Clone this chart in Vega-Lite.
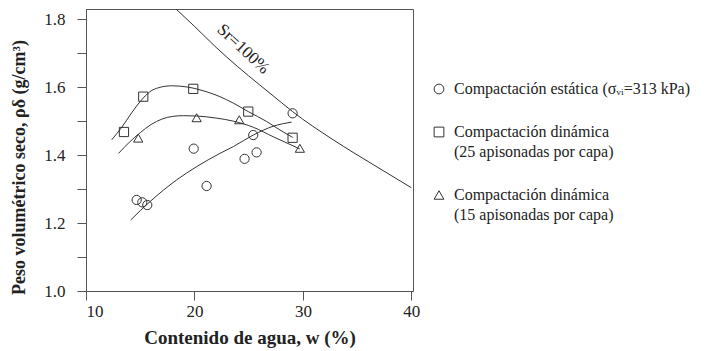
{
  "$schema": "https://vega.github.io/schema/vega-lite/v6.json",
  "width": 327,
  "height": 282,
  "autosize": "none",
  "padding": {"left": 86, "top": 9, "right": 291, "bottom": 60},
  "background": "white",
  "datasets": {
    "pts": [
      {"serie": "A", "w": 14.67, "rho": 1.268},
      {"serie": "A", "w": 15.19, "rho": 1.261},
      {"serie": "A", "w": 15.65, "rho": 1.253},
      {"serie": "A", "w": 19.93, "rho": 1.419},
      {"serie": "A", "w": 21.12, "rho": 1.309},
      {"serie": "A", "w": 24.62, "rho": 1.389},
      {"serie": "A", "w": 25.73, "rho": 1.408},
      {"serie": "A", "w": 25.42, "rho": 1.459},
      {"serie": "A", "w": 29.05, "rho": 1.523},
      {"serie": "B", "w": 13.5, "rho": 1.468},
      {"serie": "B", "w": 15.28, "rho": 1.572},
      {"serie": "B", "w": 19.89, "rho": 1.595},
      {"serie": "B", "w": 24.96, "rho": 1.528},
      {"serie": "B", "w": 29.05, "rho": 1.451},
      {"serie": "C", "w": 14.82, "rho": 1.45},
      {"serie": "C", "w": 20.2, "rho": 1.51},
      {"serie": "C", "w": 24.13, "rho": 1.504},
      {"serie": "C", "w": 29.72, "rho": 1.42}
    ],
    "fits": [
      {"serie": "A", "w": 14.12, "rho": 1.209},
      {"serie": "A", "w": 15.9, "rho": 1.263},
      {"serie": "A", "w": 18.36, "rho": 1.327},
      {"serie": "A", "w": 20.2, "rho": 1.366},
      {"serie": "A", "w": 22.35, "rho": 1.405},
      {"serie": "A", "w": 23.58, "rho": 1.425},
      {"serie": "A", "w": 25.42, "rho": 1.459},
      {"serie": "A", "w": 27.26, "rho": 1.485},
      {"serie": "A", "w": 28.96, "rho": 1.497},
      {"serie": "B", "w": 12.37, "rho": 1.445},
      {"serie": "B", "w": 13.3, "rho": 1.482},
      {"serie": "B", "w": 14.2, "rho": 1.524},
      {"serie": "B", "w": 15.28, "rho": 1.568},
      {"serie": "B", "w": 16.0, "rho": 1.589},
      {"serie": "B", "w": 16.66, "rho": 1.598},
      {"serie": "B", "w": 17.9, "rho": 1.604},
      {"serie": "B", "w": 19.43, "rho": 1.6},
      {"serie": "B", "w": 20.51, "rho": 1.592},
      {"serie": "B", "w": 22.35, "rho": 1.572},
      {"serie": "B", "w": 23.58, "rho": 1.553},
      {"serie": "B", "w": 24.96, "rho": 1.528},
      {"serie": "B", "w": 26.65, "rho": 1.499},
      {"serie": "B", "w": 27.88, "rho": 1.474},
      {"serie": "B", "w": 29.05, "rho": 1.452},
      {"serie": "C", "w": 13.0, "rho": 1.405},
      {"serie": "C", "w": 14.0, "rho": 1.438},
      {"serie": "C", "w": 15.0, "rho": 1.466},
      {"serie": "C", "w": 16.0, "rho": 1.49},
      {"serie": "C", "w": 17.0, "rho": 1.506},
      {"serie": "C", "w": 18.0, "rho": 1.514},
      {"serie": "C", "w": 19.0, "rho": 1.516},
      {"serie": "C", "w": 20.2, "rho": 1.515},
      {"serie": "C", "w": 22.0, "rho": 1.509},
      {"serie": "C", "w": 23.58, "rho": 1.5},
      {"serie": "C", "w": 25.42, "rho": 1.482},
      {"serie": "C", "w": 27.26, "rho": 1.454},
      {"serie": "C", "w": 29.72, "rho": 1.418}
    ],
    "sat": [
      {"w": 18.3, "rho": 1.83},
      {"w": 20.0, "rho": 1.779},
      {"w": 22.0, "rho": 1.717},
      {"w": 24.0, "rho": 1.66},
      {"w": 26.0, "rho": 1.607},
      {"w": 28.0, "rho": 1.555},
      {"w": 29.05, "rho": 1.528},
      {"w": 32.79, "rho": 1.445},
      {"w": 36.48, "rho": 1.372},
      {"w": 40.0, "rho": 1.304}
    ],
    "lbl": [
      {"w": 24.5, "rho": 1.712, "t": "Sr=100%"}
    ]
  },
  "encoding": {
    "x": {
      "field": "w",
      "type": "quantitative",
      "scale": {"domain": [10, 40.15], "nice": false, "zero": false},
      "axis": {
        "values": [10, 20, 30, 40],
        "title": "Contenido de agua, w (%)",
        "labelPadding": 3,
        "titlePadding": 9,
        "titleFontSize": 19
      }
    },
    "y": {
      "field": "rho",
      "type": "quantitative",
      "scale": {"domain": [1.0, 1.83], "nice": false, "zero": false},
      "axis": {
        "values": [1.0, 1.1, 1.2, 1.3, 1.4, 1.5, 1.6, 1.7, 1.8],
        "labelExpr": "round(datum.value * 10) % 2 == 0 ? format(datum.value, '.1f') : ''",
        "title": "Peso volumétrico seco, ρδ  (g/cm³)",
        "labelPadding": 12,
        "titlePadding": 15,
        "titleY": 158,
        "titleFontSize": 18
      }
    }
  },
  "layer": [
    {
      "data": {"name": "sat"},
      "mark": {"type": "line", "color": "#333", "strokeWidth": 1, "interpolate": "monotone", "clip": true}
    },
    {
      "data": {"name": "fits"},
      "mark": {"type": "line", "color": "#333", "strokeWidth": 1, "interpolate": "monotone"},
      "encoding": {
        "detail": {"field": "serie"}
      }
    },
    {
      "data": {"name": "pts"},
      "mark": {"type": "point", "filled": false, "color": "#333", "strokeWidth": 1, "size": 85, "opacity": 1},
      "encoding": {
        "shape": {
          "field": "serie",
          "type": "nominal",
          "scale": {"domain": ["A", "B", "C"], "range": ["circle", "square", "triangle-up"]},
          "legend": {
            "title": null,
            "orient": "none",
            "legendX": 345,
            "legendY": 72,
            "labelExpr": "datum.value == 'A' ? 'Compactación estática (σᵥᵢ=313 kPa)' : datum.value == 'B' ? ['Compactación dinámica', '(25 apisonadas por capa)'] : ['Compactación dinámica', '(15 apisonadas por capa)']",
            "labelFont": "Liberation Serif",
            "labelFontSize": 16,
            "labelColor": "#222",
            "labelLimit": 0,
            "labelOffset": 7,
            "rowPadding": 27,
            "symbolSize": 95,
            "symbolStrokeColor": "#333",
            "symbolStrokeWidth": 1,
            "symbolFillColor": "transparent"
          }
        }
      }
    },
    {
      "data": {"name": "lbl"},
      "mark": {"type": "text", "angle": 43, "font": "Liberation Serif", "fontSize": 17, "color": "#222", "align": "center", "baseline": "middle"},
      "encoding": {
        "text": {"field": "t"}
      }
    }
  ],
  "config": {
    "view": {"stroke": "#555", "strokeWidth": 1},
    "style": {"guide-label": {"lineHeight": 20}},
    "axis": {
      "grid": false,
      "domainColor": "#555",
      "tickColor": "#555",
      "tickSize": 9,
      "labelFont": "Liberation Serif",
      "labelFontSize": 17,
      "labelColor": "#222",
      "titleFont": "Liberation Serif",
      "titleFontSize": 18,
      "titleFontWeight": "bold",
      "titleColor": "#222"
    }
  }
}
